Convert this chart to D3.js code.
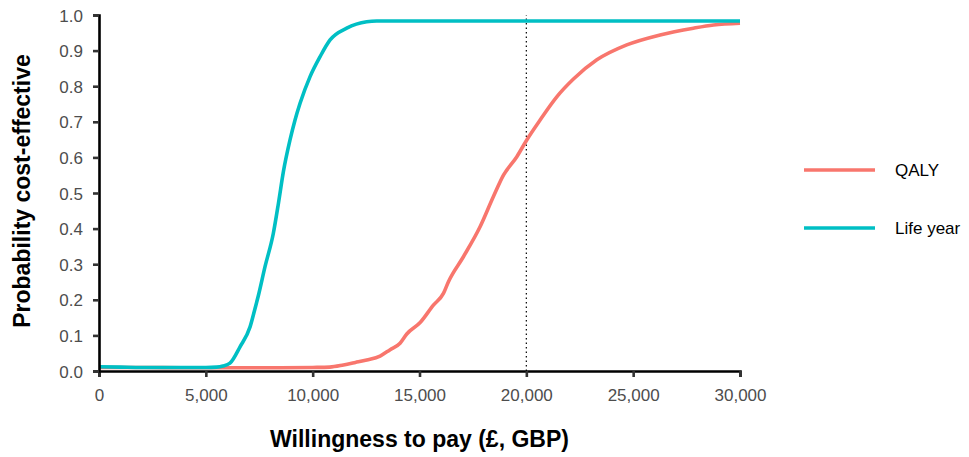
<!DOCTYPE html>
<html>
<head>
<meta charset="utf-8">
<script src="https://cdn.jsdelivr.net/npm/d3@7"></script>
<style>
  html, body { margin: 0; padding: 0; background: #fff; }
  svg { display: block; font-family: "Liberation Sans", Arial, sans-serif; }
</style>
</head>
<body>
<svg id="chart" width="969" height="457"></svg>
<script>
// Cost-effectiveness acceptability curves
const seriesNames = ["QALY", "Life year"];
const seriesColors = ["#F8766D", "#00BFC4"];

const qalyWtp  = [0, 2000, 4000, 6000, 8000, 10000, 10800, 11440, 12000, 12530, 13155, 13625, 14090, 14405, 15030, 15650, 16120, 16355, 17055, 17835, 18460, 18930, 19555, 20020, 20645, 21425, 22205, 23300, 24700, 26260, 27820, 28760, 30000];
const qalyProb = [0.010, 0.010, 0.009, 0.009, 0.009, 0.010, 0.011, 0.017, 0.024, 0.031, 0.042, 0.060, 0.078, 0.104, 0.136, 0.185, 0.218, 0.251, 0.321, 0.405, 0.490, 0.550, 0.602, 0.649, 0.705, 0.770, 0.820, 0.874, 0.916, 0.944, 0.963, 0.972, 0.977];

const lifeWtp  = [0, 1000, 2000, 3000, 4000, 5000, 5500, 5800, 6130, 6600, 7070, 7300, 7460, 7770, 8160, 8395, 8630, 8940, 9175, 9410, 9878, 10346, 10815, 11595, 12530, 13000, 20000, 30000];
const lifeProb = [0.012, 0.011, 0.010, 0.010, 0.010, 0.010, 0.011, 0.014, 0.022, 0.068, 0.124, 0.175, 0.212, 0.293, 0.387, 0.470, 0.560, 0.649, 0.705, 0.752, 0.827, 0.883, 0.930, 0.963, 0.981, 0.983, 0.983, 0.983];

const xTicks = [0, 5000, 10000, 15000, 20000, 25000, 30000];
const yTicks = [0, 0.1, 0.2, 0.3, 0.4, 0.5, 0.6, 0.7, 0.8, 0.9, 1.0];
const thresholdWtp = 20000;

const series = [
  { name: seriesNames[0], color: seriesColors[0], values: qalyWtp.map((w, i) => ({ w, p: qalyProb[i] })) },
  { name: seriesNames[1], color: seriesColors[1], values: lifeWtp.map((w, i) => ({ w, p: lifeProb[i] })) }
];

const svg = d3.select("#chart");
const margin = { left: 99, right: 229, top: 15, bottom: 86 };
const width = 969 - margin.left - margin.right;
const height = 457 - margin.top - margin.bottom;

const x = d3.scaleLinear().domain([0, 30000]).range([0, width]);
const y = d3.scaleLinear().domain([0, 1]).range([height, 0]);

const g = svg.append("g").attr("transform", `translate(${margin.left},${margin.top})`);

// threshold line at £20,000
g.append("line")
  .attr("x1", x(thresholdWtp)).attr("x2", x(thresholdWtp))
  .attr("y1", y(0)).attr("y2", y(1))
  .attr("stroke", "#000").attr("stroke-width", 1.2)
  .attr("stroke-dasharray", "1.5,3");

const line = d3.line().x(d => x(d.w)).y(d => y(d.p)).curve(d3.curveMonotoneX);

// QALY first so the life-year curve sits on top along the flat start
series.forEach(s => {
  g.append("path")
    .datum(s.values)
    .attr("fill", "none")
    .attr("stroke", s.color)
    .attr("stroke-width", 3.6)
    .attr("stroke-linejoin", "round")
    .attr("d", line);
});

const fmt = d3.format(",");
const xAxis = g.append("g")
  .attr("transform", `translate(0,${height})`)
  .call(d3.axisBottom(x).tickValues(xTicks).tickFormat(fmt).tickSize(6).tickPadding(12));
const yAxis = g.append("g")
  .call(d3.axisLeft(y).tickValues(yTicks).tickFormat(d3.format(".1f")).tickSize(6).tickPadding(10));

[xAxis, yAxis].forEach(a => {
  a.select(".domain").attr("stroke", "#000").attr("stroke-width", 2.6);
  a.selectAll(".tick line").attr("stroke", "#333").attr("stroke-width", 2.6);
  a.selectAll(".tick text").attr("fill", "#4d4d4d").style("font-size", "17px");
});
yAxis.selectAll(".tick text").attr("dy", "0.36em");

// axis titles
svg.append("text")
  .attr("x", margin.left + width / 2)
  .attr("y", 447)
  .attr("text-anchor", "middle")
  .style("font-size", "23px").style("font-weight", "bold").attr("fill", "#000")
  .text("Willingness to pay (£, GBP)");

svg.append("text")
  .attr("transform", `translate(30,${margin.top + height / 2 - 2}) rotate(-90)`)
  .attr("text-anchor", "middle")
  .style("font-size", "23px").style("font-weight", "bold").attr("fill", "#000")
  .text("Probability cost-effective");

// legend
const legend = svg.append("g").attr("transform", "translate(804,170)");
series.forEach((s, i) => {
  const row = legend.append("g").attr("transform", `translate(0,${i * 58})`);
  row.append("line").attr("x1", 0).attr("x2", 71).attr("y1", 0).attr("y2", 0)
    .attr("stroke", s.color).attr("stroke-width", 3.6);
  row.append("text").attr("x", 91).attr("y", 0).attr("dy", "0.36em")
    .style("font-size", "17px").attr("fill", "#000").text(s.name);
});
</script>
</body>
</html>
